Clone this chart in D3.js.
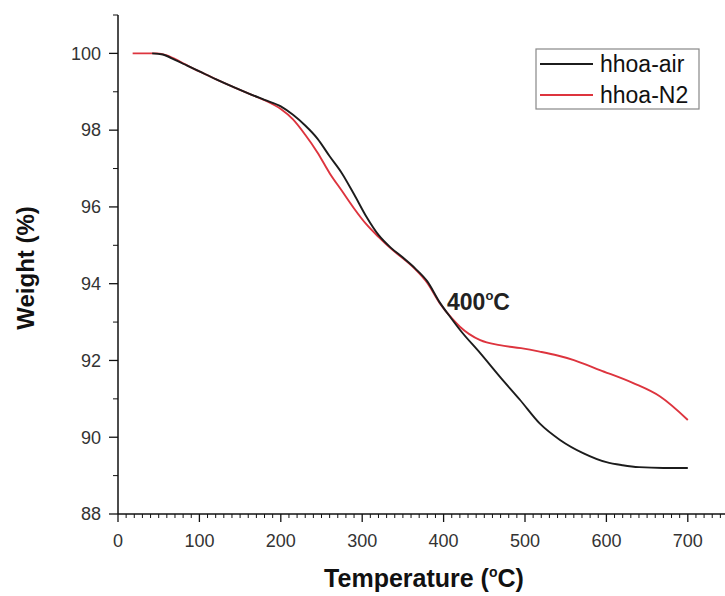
<!DOCTYPE html>
<html>
<head>
<meta charset="utf-8">
<script src="https://cdn.jsdelivr.net/npm/d3@7"></script>
<style>
  html, body { margin: 0; padding: 0; background: #fff; }
  svg { display: block; font-family: Arial, "Liberation Sans", sans-serif; }
</style>
</head>
<body>
<svg id="chart" width="725" height="596"></svg>
<script>
// TGA curves: temperature (°C) against remaining weight (%)
const airTemp   = [42, 55, 70, 85, 100, 120, 140, 160, 180, 200, 215, 230, 245, 260, 275, 290, 305, 320, 335, 350, 365, 380, 395, 410, 420, 445, 469, 494, 518, 543, 572, 600, 620, 640, 670, 700];
const airWeight = [100, 99.97, 99.83, 99.68, 99.53, 99.33, 99.14, 98.96, 98.79, 98.62, 98.40, 98.12, 97.78, 97.32, 96.88, 96.33, 95.75, 95.27, 94.94, 94.68, 94.40, 94.06, 93.52, 93.08, 92.80, 92.19, 91.58, 90.97, 90.36, 89.93, 89.58, 89.35, 89.27, 89.22, 89.20, 89.20];

const n2Temp   = [18, 48, 60, 80, 100, 120, 140, 160, 180, 200, 215, 230, 245, 260, 275, 290, 305, 320, 335, 350, 365, 380, 395, 410, 420, 445, 469, 495, 518, 540, 560, 592, 633, 666, 700];
const n2Weight = [100, 100, 99.95, 99.74, 99.53, 99.33, 99.14, 98.96, 98.78, 98.55, 98.28, 97.88, 97.42, 96.88, 96.42, 95.96, 95.55, 95.22, 94.92, 94.66, 94.38, 94.02, 93.50, 93.10, 92.88, 92.53, 92.40, 92.32, 92.23, 92.13, 92.01, 91.75, 91.41, 91.06, 90.45];

const seriesNames  = ["hhoa-air", "hhoa-N2"];
const seriesColors = ["#1c1c1c", "#dd343e"];

const xTicks = [0, 100, 200, 300, 400, 500, 600, 700];
const yTicks = [88, 90, 92, 94, 96, 98, 100];

const svg = d3.select("#chart");

const x = d3.scaleLinear().domain([0, 750]).range([118, 728.5]);
const y = d3.scaleLinear().domain([88, 101]).range([514, 15]);

// minor ticks: every 10 °C and every 1 %
const xMinor = d3.range(0, 751, 10).filter(v => v % 100 !== 0);
const yMinor = d3.range(89, 102, 2);

const axisColor = "#111";
const labelColor = "#333";

// x axis
const gx = svg.append("g").attr("transform", `translate(0,${y(88)})`);
gx.append("line").attr("x1", x(0)).attr("x2", x(750)).attr("stroke", axisColor).attr("stroke-width", 1.5);
gx.selectAll(".minor").data(xMinor).join("line")
  .attr("x1", d => x(d)).attr("x2", d => x(d)).attr("y1", 0).attr("y2", 4)
  .attr("stroke", axisColor).attr("stroke-width", 1);
gx.selectAll(".major").data(xTicks).join("line")
  .attr("x1", d => x(d)).attr("x2", d => x(d)).attr("y1", 0).attr("y2", 8)
  .attr("stroke", axisColor).attr("stroke-width", 1.3);
gx.selectAll("text").data(xTicks).join("text")
  .attr("x", d => x(d)).attr("y", 33)
  .attr("text-anchor", "middle").attr("font-size", 18).attr("fill", labelColor)
  .text(d => d);

// y axis
const gy = svg.append("g").attr("transform", `translate(${x(0)},0)`);
gy.append("line").attr("y1", y(88)).attr("y2", y(101)).attr("stroke", axisColor).attr("stroke-width", 1.5);
gy.selectAll(".minor").data(yMinor).join("line")
  .attr("y1", d => y(d)).attr("y2", d => y(d)).attr("x1", 0).attr("x2", -5)
  .attr("stroke", axisColor).attr("stroke-width", 1);
gy.selectAll(".major").data(yTicks).join("line")
  .attr("y1", d => y(d)).attr("y2", d => y(d)).attr("x1", 0).attr("x2", -9)
  .attr("stroke", axisColor).attr("stroke-width", 1.3);
gy.selectAll("text").data(yTicks).join("text")
  .attr("x", -17).attr("y", d => y(d)).attr("dy", "0.35em")
  .attr("text-anchor", "end").attr("font-size", 18).attr("fill", labelColor)
  .text(d => d);

// axis titles
const xt = svg.append("text")
  .attr("x", 424).attr("y", 587)
  .attr("text-anchor", "middle").attr("font-size", 25).attr("font-weight", "bold").attr("fill", "#111");
xt.append("tspan").text("Temperature (");
xt.append("tspan").attr("dy", -10).attr("font-size", 14).text("o");
xt.append("tspan").attr("dy", 10).text("C)");

svg.append("text")
  .attr("transform", "translate(34,268) rotate(-90)")
  .attr("text-anchor", "middle").attr("font-size", 24).attr("font-weight", "bold").attr("fill", "#111")
  .text("Weight (%)");

// curves: N2 underneath, air on top
const line = d3.line().x(d => x(d[0])).y(d => y(d[1])).curve(d3.curveMonotoneX);
const series = [
  { data: d3.zip(n2Temp, n2Weight), color: seriesColors[1] },
  { data: d3.zip(airTemp, airWeight), color: seriesColors[0] }
];
svg.selectAll(".curve").data(series).join("path")
  .attr("class", "curve")
  .attr("fill", "none")
  .attr("stroke", d => d.color)
  .attr("stroke-width", 1.9)
  .attr("d", d => line(d.data));

// annotation at the divergence point
const ann = svg.append("text")
  .attr("x", 447).attr("y", 310)
  .attr("font-size", 23).attr("font-weight", "bold").attr("fill", "#222");
ann.append("tspan").text("400");
ann.append("tspan").attr("dy", -10).attr("font-size", 13).text("o");
ann.append("tspan").attr("dy", 10).text("C");

// legend
const lg = svg.append("g");
lg.append("rect").attr("x", 536).attr("y", 49).attr("width", 163).attr("height", 60)
  .attr("fill", "#fff").attr("stroke", "#888").attr("stroke-width", 1.2);
seriesNames.forEach((name, i) => {
  const ly = 64 + i * 31;
  lg.append("line").attr("x1", 540).attr("x2", 593).attr("y1", ly).attr("y2", ly)
    .attr("stroke", seriesColors[i]).attr("stroke-width", 2);
  lg.append("text").attr("x", 600).attr("y", ly).attr("dy", "0.35em")
    .attr("font-size", 23).attr("fill", "#111").text(name);
});
</script>
</body>
</html>
